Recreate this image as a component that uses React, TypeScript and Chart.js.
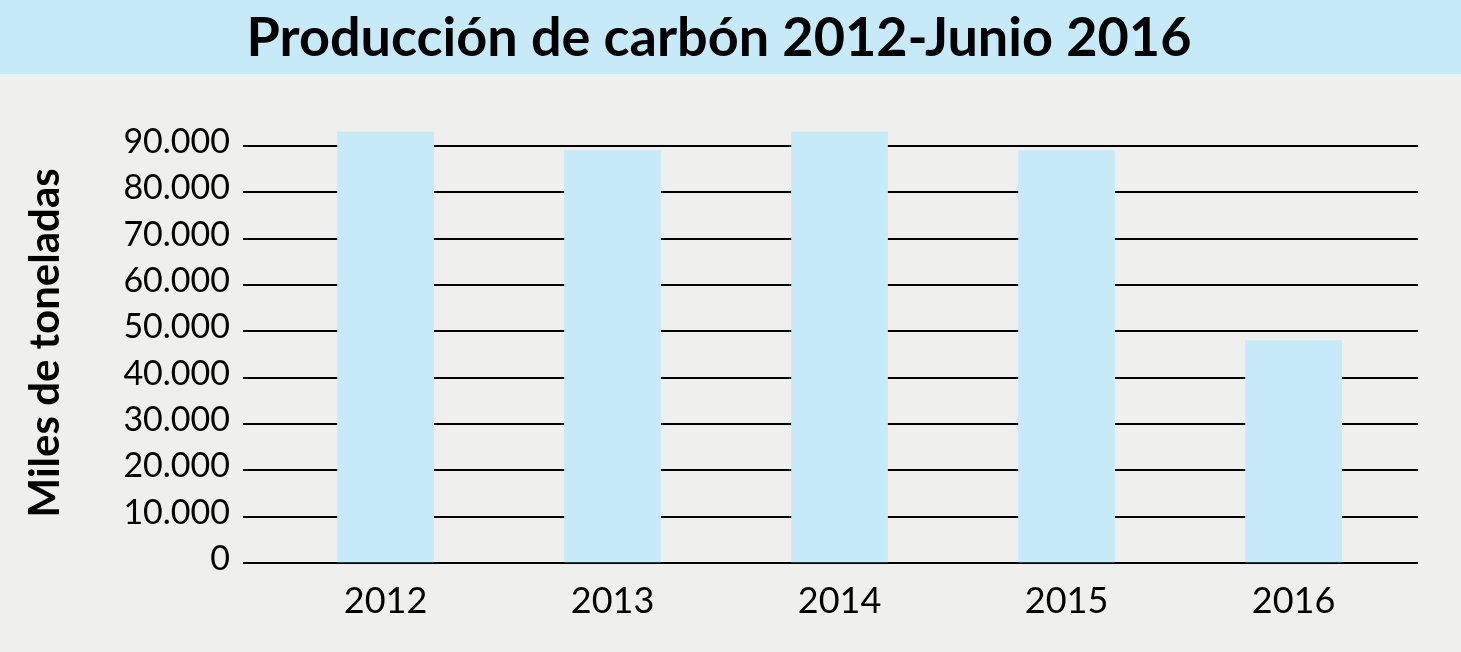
import React, { useEffect, useRef } from "react";
import { Chart, registerables } from "chart.js";

Chart.register(...registerables);

const chartTitle = "Producción de carbón 2012-Junio 2016";
const yAxisTitle = "Miles de toneladas";
const years = ["2012", "2013", "2014", "2015", "2016"];
const production = [93000, 89000, 93000, 89000, 48000];
const yTickValues = [0, 10000, 20000, 30000, 40000, 50000, 60000, 70000, 80000, 90000];

const BAND = "#c7eaf9";
const BG = "#efefee";

const fmt = (v: number) => String(v).replace(/\B(?=(\d{3})+(?!\d))/g, ".");

const backgroundPlugin = {
  id: "bgBand",
  beforeDraw(chart: any) {
    const { ctx, width, height } = chart;
    ctx.save();
    ctx.fillStyle = BG;
    ctx.fillRect(0, 0, width, height);
    ctx.fillStyle = BAND;
    ctx.fillRect(0, 0, width, 74);
    ctx.restore();
  },
};

export default function App() {
  const ref = useRef<HTMLCanvasElement | null>(null);

  useEffect(() => {
    document.body.style.margin = "0";
    if (!ref.current) return;
    const chart = new Chart(ref.current, {
      type: "bar",
      data: {
        datasets: [
          {
            data: production.map((v, i) => ({ x: i, y: v })),
            backgroundColor: BAND,
            borderWidth: 0,
            barThickness: 96,
          },
        ],
      },
      plugins: [backgroundPlugin],
      options: {
        animation: false,
        responsive: true,
        maintainAspectRatio: false,
        layout: { padding: { left: 20, right: 43, top: 0, bottom: 0 } },
        plugins: {
          legend: { display: false },
          tooltip: { enabled: false },
          title: {
            display: true,
            text: chartTitle,
            color: "#000",
            font: { family: "Lato", weight: "bold", size: 54 },
            padding: { top: 6, bottom: 52 },
          },
        },
        scales: {
          x: {
            type: "linear",
            offset: false,
            min: -0.628,
            max: 4.548,
            grid: { display: false },
            border: { display: false },
            afterBuildTicks: (scale: any) => {
              scale.ticks = years.map((_, i) => ({ value: i }));
            },
            afterFit: (scale: any) => {
              scale.height = 89;
            },
            ticks: {
              color: "#000",
              font: { family: "Lato", size: 36 },
              padding: 9,
              maxRotation: 0,
              autoSkip: false,
              callback: (v: any) => years[v] ?? "",
            },
          },
          y: {
            min: 0,
            max: 95000,
            afterBuildTicks: (scale: any) => {
              scale.ticks = yTickValues.map((v) => ({ value: v }));
            },
            afterFit: (scale: any) => {
              scale.width = 223;
            },
            grid: { color: "#000", lineWidth: 2, drawTicks: false },
            border: { display: false },
            title: {
              display: true,
              text: yAxisTitle,
              color: "#000",
              font: { family: "Lato", weight: "bold", size: 42 },
              padding: 0,
            },
            ticks: {
              color: "#000",
              font: { family: "Lato", size: 34 },
              padding: 13,
              labelOffset: -4,
              callback: (v: any) => fmt(Number(v)),
            },
          },
        },
      },
    } as any);
    return () => chart.destroy();
  }, []);

  return (
    <div style={{ width: 1461, height: 652, position: "relative" }}>
      <canvas ref={ref} />
    </div>
  );
}
